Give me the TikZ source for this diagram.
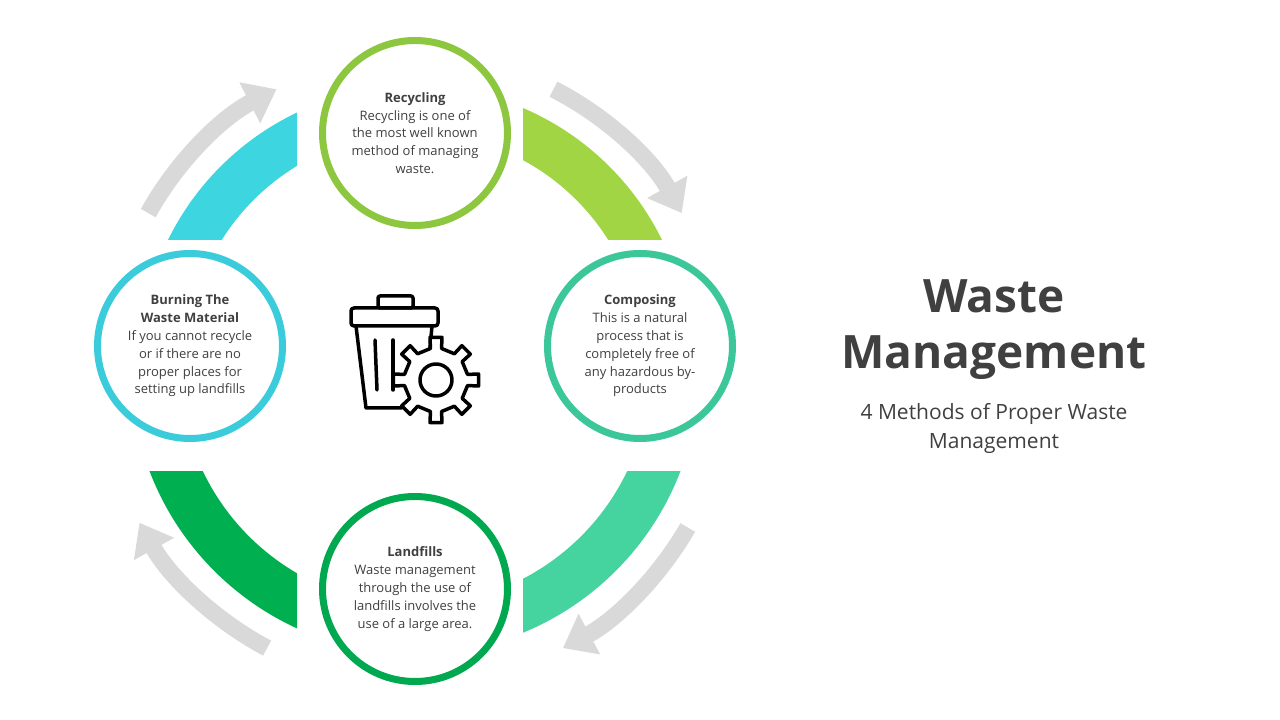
\documentclass[tikz,border=0pt]{standalone}
\usepackage{fontspec}
\setmainfont{Open Sans}
\usetikzlibrary{arrows.meta}
\hyphenpenalty=10000
\definecolor{txt}{HTML}{404040}
\definecolor{cTop}{HTML}{8DC63F}
\definecolor{cRight}{HTML}{3CC79A}
\definecolor{cBot}{HTML}{00A84F}
\definecolor{cLeft}{HTML}{3ACCDA}
\definecolor{aTR}{HTML}{A1D543}
\definecolor{aTL}{HTML}{3DD5E0}
\definecolor{aBR}{HTML}{45D3A0}
\definecolor{aBL}{HTML}{00B050}
\definecolor{gry}{HTML}{D9D9D9}
\tikzset{
 ring/.style={circle,draw=#1,line width=7pt,fill=white,minimum size=185pt,inner sep=0pt},
 body/.style={text=txt,align=center,font=\fontsize{13}{17.8}\selectfont},
 garrow/.style={draw=gry,line width=17pt,-{Triangle[length=30pt,width=44pt]}},
}
\begin{document}
\begin{tikzpicture}[x=1pt,y=1pt]
\useasboundingbox (0,0) rectangle (1280,720);
\coordinate (C) at (415,359);
\coordinate (D) at (415,350);
% colored bands
\begin{scope}\clip (523,720) rectangle (800,480);
\fill[aTR,even odd rule] (C) circle[radius=275] (C) circle[radius=228];\end{scope}
\begin{scope}\clip (0,720) rectangle (297,480);
\fill[aTL,even odd rule] (C) circle[radius=275] (C) circle[radius=228];\end{scope}
\begin{scope}\clip (523,0) rectangle (800,248);
\fill[aBR,even odd rule] (D) circle[radius=284] (D) circle[radius=235];\end{scope}
\begin{scope}\clip (0,0) rectangle (297,248);
\fill[aBL,even odd rule] (D) circle[radius=284] (D) circle[radius=235];\end{scope}
% gray arrows
\draw[garrow] (C) ++(63:305) arc[start angle=63,end angle=29,radius=305];
\draw[garrow] (C) ++(151:305) arc[start angle=151,end angle=117,radius=305];
\draw[garrow] (D) ++(-30:315) arc[start angle=-30,end angle=-62,radius=315];
\draw[garrow] (D) ++(-118:315) arc[start angle=-118,end angle=-151,radius=315];
% circles
\node[ring=cTop] (top) at (415,587) {};
\node[ring=cRight] (right) at (640,374) {};
\node[ring=cBot] (bot) at (415,131) {};
\node[ring=cLeft] (left) at (190,374) {};
\node[body] (ttop) at (top) {\textbf{Recycling}\\Recycling is one of\\the most well known\\method of managing\\waste.};
\node[body] (tright) at (right) {\textbf{Composing}\\This is a natural\\process that is\\completely free of\\any hazardous by-\\products};
\node[body] (tbot) at (bot) {\textbf{Landfills}\\Waste management\\through the use of\\landfills involves the\\use of a large area.};
\node[body] (tleft) at (left) {\textbf{Burning The}\\\textbf{Waste Material}\\If you cannot recycle\\or if there are no\\proper places for\\setting up landfills};
% icon
\begin{scope}[line width=3.5pt,line join=round,line cap=round]
\draw[rounded corners=2pt] (378,412) rectangle (413,424);
\draw[rounded corners=3pt] (351,394) rectangle (438,412);
\draw (356,394) -- (366,312) -- (402,312);
\draw (432,394) -- (430,372);
\draw (375,380) -- (377,330);
\draw (393,380) -- (393,330);
\begin{scope}[shift={(436,340)}]
\draw[fill=white] (-10:32) \foreach \i in {0,...,7} { -- ({\i*45-10}:32) -- ({\i*45-8}:43) -- ({\i*45+8}:43) -- ({\i*45+10}:32)} -- cycle;
\draw (0,0) circle[radius=16];
\end{scope}
\end{scope}
% title
\node[text=txt,font=\fontsize{46}{56}\selectfont\bfseries,align=center] (title) at (994,390) {Waste\\Management};
\node[text=txt,font=\fontsize{21}{29}\selectfont,align=center] (sub) at (994,292) {4 Methods of Proper Waste\\Management};
\end{tikzpicture}
\end{document}
